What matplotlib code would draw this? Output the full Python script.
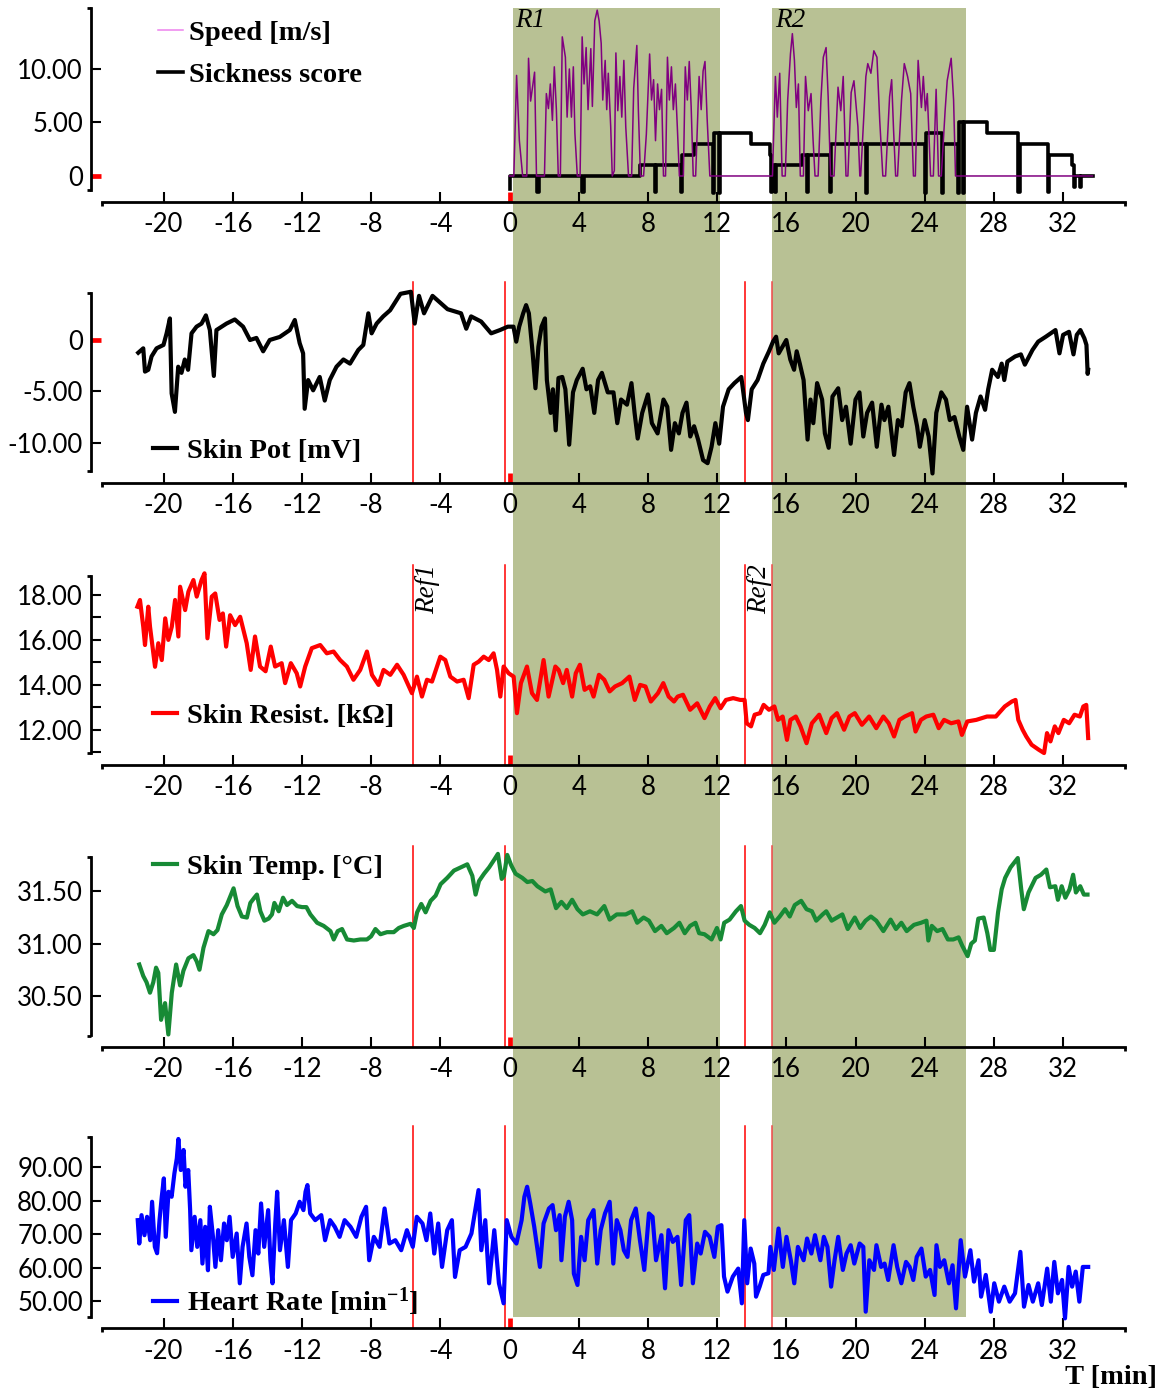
import numpy as np
import matplotlib
matplotlib.use("Agg")
import matplotlib.pyplot as plt
import matplotlib.transforms as mtransforms
from matplotlib.lines import Line2D
from matplotlib.patches import Rectangle
from matplotlib.font_manager import FontProperties

# ---------------- data ----------------
x_ticks = [-20, -16, -12, -8, -4, 0, 4, 8, 12, 16, 20, 24, 28, 32]
ride_periods = [(0.2, 12.15), (15.2, 26.4)]
ride_labels = ["R1", "R2"]
marker_times = [-5.55, -0.27, 13.6, 15.15]
ref_labels = [("Ref1", -5.55), ("Ref2", 13.6)]

speed = [(0.0, 0), (0.25, 0), (0.41, 9.4), (0.57, 3.3), (0.71, 0.8), (0.76, 0), (1.0, 0), (1.1, 11.0), (1.22, 7.0),
         (1.45, 9.7), (1.56, 0), (2.02, 0), (2.13, 7.7), (2.25, 6.3), (2.36, 8.6), (2.48, 5.2), (2.59, 10.2),
         (2.71, 6.2), (2.82, 0), (2.94, 0), (3.05, 13.0), (3.23, 11.1), (3.33, 5.5), (3.46, 10.0), (3.58, 5.5),
         (3.69, 10.2), (3.78, 4.0), (3.92, 0), (4.08, 0), (4.2, 13.0), (4.31, 8.6), (4.43, 12.0), (4.54, 6.2),
         (4.7, 11.9), (4.79, 6.5), (4.93, 14.5), (5.07, 15.5), (5.18, 14.5), (5.3, 12.4), (5.39, 7.1), (5.53, 10.8),
         (5.62, 6.2), (5.71, 9.6), (5.85, 4.6), (5.94, 0), (6.06, 0.5), (6.15, 11.5), (6.26, 6.1), (6.38, 9.3),
         (6.49, 5.5), (6.61, 10.8), (6.72, 4.6), (6.88, 0), (7.06, 0), (7.18, 8.2), (7.36, 12.2), (7.45, 6.1),
         (7.57, 0), (7.75, 0), (7.91, 3.9), (8.1, 11.4), (8.21, 7.1), (8.33, 9.0), (8.44, 3.3), (8.56, 8.6),
         (8.67, 6.2), (8.79, 8.1), (8.9, 0), (9.02, 0), (9.13, 11.1), (9.24, 7.1), (9.36, 10.2), (9.47, 6.2),
         (9.59, 8.6), (9.7, 4.6), (9.82, 0), (10.05, 0), (10.16, 10.2), (10.28, 7.1), (10.39, 10.7), (10.5, 6.5),
         (10.62, 0), (10.76, 0), (10.96, 9.3), (11.08, 6.2), (11.19, 9.8), (11.3, 10.7), (11.42, 5.5), (11.58, 0),
         (15.2, 0), (15.37, 9.3), (15.48, 5.5), (15.62, 9.6), (15.76, 0), (15.94, 0), (16.08, 7.1), (16.24, 11.4),
         (16.35, 13.3), (16.47, 10.8), (16.58, 6.4), (16.7, 8.6), (16.81, 0), (16.99, 0), (17.11, 9.3), (17.27, 6.1),
         (17.43, 7.7), (17.55, 3.3), (17.66, 0), (17.84, 0), (18.0, 7.1), (18.14, 11.1), (18.3, 12.0), (18.42, 7.4),
         (18.56, 0), (18.76, 0), (18.99, 8.3), (19.15, 6.1), (19.29, 9.3), (19.45, 0), (19.56, 0), (19.75, 7.8),
         (19.91, 8.9), (20.14, 4.6), (20.25, 0), (20.3, 0), (20.6, 9.3), (20.71, 10.5), (20.89, 9.6), (21.06, 11.7),
         (21.24, 11.1), (21.4, 5.2), (21.58, 0), (21.74, 0), (21.97, 7.4), (22.09, 9.0), (22.2, 4.3), (22.32, 0),
         (22.43, 0), (22.66, 7.1), (22.82, 10.5), (23.01, 9.3), (23.19, 7.7), (23.35, 0), (23.46, 0), (23.62, 10.8),
         (23.81, 6.4), (23.92, 9.3), (24.04, 6.1), (24.15, 7.7), (24.34, 0), (24.5, 0), (24.66, 8.1), (24.8, 0),
         (24.96, 0), (25.18, 6.1), (25.3, 8.9), (25.53, 11.0), (25.67, 7.1), (25.78, 0), (33.7, 0)]

sickness = [(0.0, -1.2), (0.05, 0), (1.6, -1.5), (1.68, 0), (4.2, -1.5), (4.28, 0), (7.57, 1), (8.4, -1.5),
            (8.48, 1), (9.9, -1.5), (9.98, 2), (10.67, 3), (11.74, -1.6), (11.82, 4), (12.1, -1.6), (12.18, 4),
            (13.97, 3), (15.05, 2), (15.12, -1.5), (15.2, 1), (15.35, -1.5), (15.42, 1), (16.9, 2), (17.2, -1.5),
            (17.28, 2), (18.5, -1.5), (18.58, 3), (20.6, -1.6), (20.68, 3), (24.0, -1.6), (24.08, 4), (25.0, -1.6),
            (25.08, 3), (25.9, -1.6), (26.0, 5), (26.2, -1.6), (26.28, 5), (27.6, 4), (29.4, -1.5), (29.48, 3),
            (31.1, -1.5), (31.18, 2), (32.5, 1), (32.62, -1.0), (32.7, 0), (32.95, -1.0), (33.03, 0), (33.7, 0)]

skin_pot = [(-21.46, -1.24), (-21.17, -0.81), (-21.07, -3.08), (-20.88, -2.9), (-20.69, -1.6), (-20.4, -0.81),
            (-20.0, -0.48), (-19.82, 0.65), (-19.63, 2.1), (-19.53, -5.2), (-19.34, -7.0), (-19.15, -2.6),
            (-18.96, -3.2), (-18.77, -1.9), (-18.58, -2.9), (-18.38, 0.65), (-18.09, 1.3), (-17.8, 1.6),
            (-17.55, 2.4), (-17.32, 0.97), (-17.09, -3.5), (-16.94, 0.97), (-16.36, 1.6), (-15.88, 2.0),
            (-15.4, 1.3), (-15.0, 0.0), (-14.63, 0.2), (-14.24, -1.1), (-13.86, 0.0), (-13.28, 0.3), (-12.7, 0.97),
            (-12.41, 1.95), (-12.13, -0.3), (-11.93, -1.3), (-11.84, -6.7), (-11.64, -3.9), (-11.35, -4.9),
            (-10.97, -3.6), (-10.68, -5.9), (-10.39, -3.9), (-10.0, -2.6), (-9.6, -1.9), (-9.22, -2.3),
            (-8.74, -0.97), (-8.45, -0.48), (-8.16, 2.6), (-7.97, 0.65), (-7.68, 1.6), (-7.3, 2.3), (-6.9, 2.9),
            (-6.3, 4.5), (-5.7, 4.7), (-5.48, 1.6), (-5.23, 4.3), (-4.94, 2.6), (-4.45, 4.3), (-3.58, 3.0),
            (-2.8, 2.6), (-2.5, 1.1), (-2.22, 2.3), (-1.64, 1.8), (-1.06, 0.65), (-0.55, 0.97), (-0.1, 1.3),
            (0.23, 1.3), (0.39, -0.16), (0.56, 1.3), (0.79, 2.6), (0.96, 3.4), (1.12, 2.6), (1.34, -1.3),
            (1.5, -4.7), (1.67, -0.65), (1.85, 1.3), (2.05, 2.1), (2.16, -3.9), (2.38, -7.1), (2.51, -4.8),
            (2.67, -8.8), (2.83, -3.7), (3.05, -3.6), (3.23, -4.8), (3.45, -10.2), (3.67, -5.1), (3.89, -3.9),
            (4.23, -2.8), (4.45, -4.8), (4.67, -4.5), (4.9, -7.1), (5.12, -3.9), (5.34, -3.2), (5.68, -5.1),
            (6.01, -5.1), (6.23, -8.1), (6.45, -5.8), (6.79, -6.3), (7.05, -4.2), (7.23, -7.1), (7.41, -9.6),
            (7.67, -7.1), (8.0, -5.3), (8.23, -8.1), (8.56, -9.1), (8.9, -5.8), (9.12, -6.5), (9.34, -10.7),
            (9.56, -8.1), (9.79, -9.1), (10.0, -7.1), (10.23, -6.1), (10.45, -9.4), (10.67, -8.4), (10.9, -9.7),
            (11.19, -11.7), (11.45, -12.0), (11.68, -10.4), (11.9, -8.1), (12.12, -10.1), (12.34, -6.5),
            (12.67, -4.8), (13.0, -4.2), (13.4, -3.6), (13.67, -7.1), (13.78, -7.8), (14.0, -4.8), (14.34, -3.9),
            (14.67, -2.3), (15.0, -1.1), (15.23, -0.16), (15.41, 0.32), (15.56, -1.3), (15.78, -0.65), (16.0, 0.0),
            (16.23, -1.9), (16.45, -2.9), (16.6, -1.1), (16.78, -2.3), (17.0, -3.9), (17.23, -9.7), (17.4, -5.8),
            (17.56, -8.1), (17.78, -4.2), (18.07, -5.8), (18.23, -9.1), (18.45, -10.5), (18.67, -5.5), (19.0, -4.7),
            (19.23, -7.8), (19.45, -6.5), (19.72, -10.1), (20.0, -5.8), (20.23, -5.1), (20.45, -9.4), (20.67, -7.1),
            (20.96, -6.1), (21.23, -10.4), (21.5, -6.3), (21.67, -7.8), (21.9, -6.5), (22.23, -11.2), (22.45, -7.8),
            (22.67, -8.4), (22.9, -5.1), (23.12, -4.2), (23.34, -6.5), (23.56, -8.4), (23.72, -10.4), (24.0, -7.8),
            (24.23, -9.4), (24.45, -13.0), (24.67, -7.1), (24.96, -5.1), (25.23, -5.8), (25.45, -7.8), (25.72, -7.5),
            (26.0, -9.4), (26.23, -10.7), (26.45, -6.5), (26.74, -9.7), (26.96, -7.1), (27.23, -5.5), (27.49, -6.8),
            (27.67, -4.8), (27.9, -2.9), (28.23, -3.6), (28.45, -2.3), (28.6, -3.9), (28.78, -2.1), (29.23, -1.6),
            (29.56, -1.4), (29.79, -2.4), (30.23, -0.97), (30.56, -0.16), (31.0, 0.32), (31.56, 0.97), (31.79, -1.3),
            (32.0, 0.5), (32.34, 0.8), (32.6, -1.4), (32.79, 0.5), (33.0, 0.97), (33.23, 0.16), (33.35, -0.48),
            (33.42, -3.3), (33.45, -2.9)]

skin_res = [(-21.51, 17.48), (-21.36, 17.78), (-21.17, 16.59), (-21.07, 15.77), (-20.88, 17.48), (-20.78, 16.59),
            (-20.49, 14.8), (-20.3, 15.85), (-20.1, 15.1), (-19.9, 16.96), (-19.72, 16.0), (-19.52, 16.59),
            (-19.33, 17.78), (-19.14, 16.15), (-19.04, 18.37), (-18.75, 17.33), (-18.56, 18.15), (-18.27, 18.67),
            (-18.08, 17.93), (-17.8, 18.67), (-17.63, 18.97), (-17.46, 16.07), (-17.21, 17.93), (-17.01, 18.07),
            (-16.76, 16.89), (-16.57, 17.18), (-16.38, 15.7), (-16.15, 17.1), (-15.86, 16.66), (-15.57, 17.03),
            (-15.19, 15.85), (-14.96, 14.66), (-14.71, 16.15), (-14.42, 14.81), (-14.1, 14.6), (-13.8, 15.7),
            (-13.55, 14.81), (-13.17, 14.96), (-12.97, 14.07), (-12.64, 14.96), (-12.3, 14.51), (-12.1, 13.92),
            (-11.81, 14.81), (-11.43, 15.63), (-10.94, 15.77), (-10.56, 15.4), (-10.17, 15.48), (-9.79, 15.1),
            (-9.4, 14.81), (-9.02, 14.22), (-8.63, 14.66), (-8.24, 15.48), (-7.95, 14.44), (-7.57, 13.99),
            (-7.28, 14.66), (-6.89, 14.44), (-6.5, 14.89), (-6.12, 14.44), (-5.64, 13.62), (-5.35, 14.36),
            (-5.06, 13.47), (-4.77, 14.22), (-4.48, 14.14), (-4.0, 15.25), (-3.71, 15.1), (-3.42, 14.36),
            (-3.03, 14.14), (-2.65, 14.22), (-2.36, 13.4), (-2.07, 14.89), (-1.78, 15.03), (-1.49, 15.25),
            (-1.2, 15.1), (-0.92, 15.4), (-0.72, 14.66), (-0.53, 13.47), (-0.34, 14.81), (-0.05, 14.51),
            (0.24, 14.36), (0.43, 12.73), (0.66, 14.07), (1.01, 14.81), (1.3, 13.62), (1.59, 13.32), (1.97, 15.1),
            (2.26, 13.47), (2.65, 14.81), (2.84, 14.66), (3.1, 14.07), (3.31, 14.66), (3.62, 13.47), (3.83, 14.51),
            (4.07, 14.89), (4.34, 13.77), (4.65, 13.92), (4.86, 13.47), (5.17, 14.44), (5.48, 14.22), (5.79, 13.7),
            (6.1, 13.92), (6.51, 14.07), (6.93, 14.36), (7.24, 13.32), (7.55, 13.99), (7.86, 13.92), (8.17, 13.25),
            (8.58, 13.62), (8.89, 14.07), (9.2, 13.47), (9.51, 13.25), (9.72, 13.47), (10.03, 13.55), (10.44, 12.88),
            (10.85, 13.17), (11.27, 12.51), (11.58, 13.03), (11.89, 13.4), (12.2, 12.95), (12.51, 13.32),
            (12.93, 13.4), (13.34, 13.32), (13.59, 13.32), (13.71, 12.28), (13.96, 12.14), (14.17, 12.66),
            (14.48, 12.73), (14.69, 13.1), (15.0, 12.88), (15.31, 13.03), (15.52, 12.43), (15.79, 12.58),
            (16.04, 11.54), (16.24, 12.43), (16.55, 12.58), (16.82, 12.14), (17.17, 11.39), (17.48, 12.28),
            (17.9, 12.66), (18.31, 11.84), (18.62, 12.51), (18.93, 12.73), (19.34, 11.99), (19.65, 12.58),
            (19.96, 12.73), (20.37, 12.21), (20.79, 12.58), (21.2, 12.06), (21.61, 12.58), (21.92, 12.28),
            (22.23, 11.69), (22.54, 12.43), (22.85, 12.58), (23.27, 12.73), (23.47, 11.91), (23.78, 12.43),
            (24.09, 12.58), (24.5, 12.66), (24.81, 12.06), (25.12, 12.43), (25.53, 12.28), (25.95, 12.36),
            (26.15, 11.76), (26.46, 12.36), (26.98, 12.43), (27.6, 12.58), (28.11, 12.58), (28.63, 13.03),
            (29.04, 13.25), (29.25, 13.32), (29.41, 12.43), (29.66, 11.99), (29.87, 11.69), (30.18, 11.32),
            (30.59, 11.1), (30.9, 10.95), (31.07, 11.84), (31.27, 11.47), (31.52, 12.14), (31.73, 11.84),
            (32.04, 12.43), (32.35, 12.28), (32.66, 12.66), (32.97, 12.58), (33.17, 13.03), (33.34, 13.1),
            (33.45, 11.62)]

skin_temp = [(-21.4, 30.8), (-21.17, 30.69), (-20.98, 30.63), (-20.78, 30.53), (-20.59, 30.63), (-20.43, 30.77),
             (-20.3, 30.72), (-20.14, 30.27), (-19.91, 30.43), (-19.72, 30.13), (-19.52, 30.53), (-19.27, 30.8),
             (-19.04, 30.6), (-18.85, 30.74), (-18.56, 30.86), (-18.27, 30.89), (-18.08, 30.83), (-17.92, 30.75),
             (-17.69, 30.96), (-17.4, 31.12), (-17.11, 31.09), (-16.88, 31.13), (-16.63, 31.28), (-16.34, 31.37),
             (-16.1, 31.47), (-15.95, 31.53), (-15.72, 31.36), (-15.47, 31.26), (-15.18, 31.25), (-14.98, 31.39),
             (-14.75, 31.44), (-14.6, 31.47), (-14.4, 31.31), (-14.17, 31.22), (-13.92, 31.24), (-13.73, 31.28),
             (-13.59, 31.39), (-13.34, 31.31), (-13.09, 31.44), (-12.86, 31.37), (-12.57, 31.41), (-12.28, 31.36),
             (-11.99, 31.35), (-11.74, 31.35), (-11.51, 31.28), (-11.12, 31.2), (-10.74, 31.17), (-10.35, 31.12),
             (-10.16, 31.04), (-9.93, 31.12), (-9.68, 31.14), (-9.39, 31.04), (-9.0, 31.03), (-8.62, 31.04),
             (-8.24, 31.04), (-8.0, 31.07), (-7.75, 31.14), (-7.46, 31.09), (-7.08, 31.11), (-6.69, 31.11),
             (-6.4, 31.15), (-6.11, 31.17), (-5.72, 31.19), (-5.53, 31.15), (-5.34, 31.3), (-5.1, 31.38),
             (-4.85, 31.3), (-4.56, 31.41), (-4.27, 31.46), (-3.98, 31.57), (-3.6, 31.63), (-3.21, 31.7),
             (-2.83, 31.73), (-2.44, 31.76), (-2.15, 31.65), (-1.96, 31.47), (-1.76, 31.6), (-1.47, 31.67),
             (-1.18, 31.73), (-0.9, 31.8), (-0.67, 31.86), (-0.45, 31.62), (-0.32, 31.65), (-0.13, 31.85),
             (0.1, 31.75), (0.35, 31.67), (0.74, 31.63), (1.03, 31.59), (1.32, 31.6), (1.61, 31.55), (2.07, 31.5),
             (2.38, 31.52), (2.69, 31.34), (3.0, 31.4), (3.31, 31.34), (3.62, 31.42), (3.93, 31.33), (4.24, 31.28),
             (4.65, 31.31), (5.06, 31.28), (5.48, 31.36), (5.79, 31.23), (6.2, 31.28), (6.72, 31.28), (7.09, 31.31),
             (7.38, 31.2), (7.75, 31.25), (8.06, 31.22), (8.41, 31.12), (8.78, 31.17), (9.09, 31.1), (9.51, 31.15),
             (9.82, 31.2), (10.13, 31.1), (10.44, 31.17), (10.75, 31.2), (10.96, 31.1), (11.27, 31.09),
             (11.68, 31.04), (11.99, 31.15), (12.2, 31.04), (12.41, 31.2), (12.72, 31.23), (13.09, 31.31),
             (13.38, 31.36), (13.59, 31.22), (13.86, 31.18), (14.17, 31.15), (14.48, 31.1), (14.75, 31.18),
             (15.04, 31.3), (15.31, 31.2), (15.62, 31.26), (15.93, 31.33), (16.2, 31.26), (16.49, 31.37),
             (16.86, 31.41), (17.17, 31.33), (17.48, 31.31), (17.73, 31.22), (18.1, 31.28), (18.31, 31.31),
             (18.62, 31.22), (18.93, 31.25), (19.24, 31.28), (19.55, 31.14), (19.96, 31.25), (20.27, 31.15),
             (20.58, 31.22), (20.89, 31.26), (21.2, 31.22), (21.61, 31.12), (22.03, 31.23), (22.34, 31.14),
             (22.65, 31.2), (22.96, 31.12), (23.38, 31.18), (23.79, 31.2), (24.1, 31.22), (24.21, 31.03),
             (24.41, 31.17), (24.72, 31.12), (25.03, 31.14), (25.34, 31.04), (25.65, 31.04), (25.96, 31.06),
             (26.17, 30.98), (26.48, 30.88), (26.69, 31.0), (26.9, 31.03), (27.1, 31.24), (27.41, 31.25),
             (27.62, 31.1), (27.79, 30.94), (28.0, 30.94), (28.24, 31.3), (28.45, 31.52), (28.65, 31.63),
             (28.96, 31.73), (29.38, 31.82), (29.58, 31.52), (29.73, 31.33), (30.0, 31.49), (30.41, 31.63),
             (30.72, 31.66), (31.03, 31.71), (31.24, 31.54), (31.55, 31.55), (31.7, 31.42), (31.92, 31.55),
             (32.13, 31.44), (32.37, 31.52), (32.58, 31.66), (32.74, 31.49), (32.99, 31.55), (33.2, 31.47),
             (33.41, 31.47)]

heart_rate = [(-21.49, 74.2), (-21.4, 67.2), (-21.27, 75.7), (-21.1, 69.7), (-20.95, 75.2), (-20.77, 68.2),
              (-20.66, 79.7), (-20.5, 66.2), (-20.37, 64.3), (-20.23, 74.2), (-20.1, 81.2), (-19.98, 86.7),
              (-19.87, 69.2), (-19.71, 82.7), (-19.53, 81.2), (-19.37, 88.2), (-19.23, 92.7), (-19.14, 98.5),
              (-19.0, 89.2), (-18.84, 95.2), (-18.73, 84.2), (-18.57, 89.2), (-18.46, 77.2), (-18.39, 65.2),
              (-18.2, 75.2), (-18.05, 66.2), (-17.87, 74.2), (-17.75, 61.2), (-17.59, 72.2), (-17.43, 59.2),
              (-17.32, 78.2), (-17.14, 69.2), (-17.0, 60.2), (-16.84, 71.2), (-16.68, 62.2), (-16.5, 73.2),
              (-16.34, 68.2), (-16.18, 75.2), (-16.0, 63.2), (-15.77, 70.2), (-15.59, 55.3), (-15.43, 66.2),
              (-15.2, 73.2), (-15.04, 63.2), (-14.86, 57.7), (-14.68, 71.2), (-14.52, 64.2), (-14.36, 79.2),
              (-14.18, 66.2), (-13.95, 77.2), (-13.82, 62.2), (-13.7, 55.3), (-13.54, 73.2), (-13.43, 82.7),
              (-13.27, 65.2), (-13.04, 74.2), (-12.81, 60.2), (-12.63, 74.2), (-12.36, 76.2), (-12.13, 79.7),
              (-11.91, 77.2), (-11.79, 82.7), (-11.68, 84.7), (-11.52, 76.2), (-11.23, 74.2), (-10.88, 75.7),
              (-10.66, 68.2), (-10.37, 74.2), (-10.1, 72.2), (-9.82, 69.2), (-9.53, 74.2), (-9.19, 72.2),
              (-8.86, 69.2), (-8.56, 75.2), (-8.29, 78.2), (-8.11, 62.2), (-7.84, 69.2), (-7.51, 66.2),
              (-7.22, 77.7), (-6.94, 67.2), (-6.6, 68.2), (-6.26, 65.2), (-5.93, 71.2), (-5.59, 66.2),
              (-5.36, 75.2), (-5.03, 73.2), (-4.8, 68.2), (-4.58, 76.2), (-4.35, 64.2), (-4.12, 73.2),
              (-3.9, 60.2), (-3.6, 71.2), (-3.33, 74.2), (-3.15, 57.2), (-2.88, 65.2), (-2.54, 66.2), (-2.2, 70.2),
              (-1.79, 83.2), (-1.63, 65.2), (-1.4, 74.2), (-1.18, 55.3), (-0.88, 71.2), (-0.61, 55.3),
              (-0.34, 49.3), (-0.16, 74.2), (0.11, 69.2), (0.4, 67.2), (0.7, 74.2), (0.86, 81.2), (1.02, 84.2),
              (1.2, 79.2), (1.43, 72.2), (1.76, 60.2), (1.97, 73.2), (2.28, 77.7), (2.49, 78.7), (2.69, 71.2),
              (2.9, 75.7), (3.0, 62.2), (3.2, 75.2), (3.42, 79.7), (3.62, 74.2), (3.72, 58.2), (3.93, 54.8),
              (4.14, 69.2), (4.34, 62.2), (4.55, 74.2), (4.86, 77.2), (5.07, 61.2), (5.27, 71.2), (5.52, 76.2),
              (5.79, 79.7), (6.0, 61.2), (6.2, 74.2), (6.41, 71.2), (6.61, 65.2), (6.82, 63.2), (7.03, 74.2),
              (7.3, 77.7), (7.54, 68.2), (7.79, 59.3), (8.06, 76.2), (8.27, 75.2), (8.47, 62.2), (8.78, 69.7),
              (8.99, 53.8), (9.19, 71.2), (9.44, 67.7), (9.71, 69.2), (9.92, 54.8), (10.19, 74.2), (10.39, 75.7),
              (10.6, 55.3), (10.85, 67.2), (11.05, 64.2), (11.3, 70.7), (11.57, 69.2), (11.84, 63.2), (12.04, 72.2),
              (12.25, 72.7), (12.4, 57.3), (12.6, 52.8), (12.91, 57.3), (13.22, 59.7), (13.43, 49.3), (13.57, 74.2),
              (13.74, 55.3), (13.94, 65.7), (14.15, 61.2), (14.25, 51.3), (14.46, 54.3), (14.67, 57.8),
              (14.97, 58.3), (15.08, 66.2), (15.28, 59.3), (15.55, 71.7), (15.8, 60.2), (16.01, 69.2),
              (16.26, 62.2), (16.46, 55.3), (16.67, 66.2), (17.0, 62.2), (17.2, 68.7), (17.45, 64.2), (17.66, 69.7),
              (17.97, 62.2), (18.17, 69.2), (18.38, 66.2), (18.59, 54.3), (18.79, 62.2), (19.0, 69.2), (19.27, 59.3),
              (19.48, 64.2), (19.72, 66.7), (19.93, 61.2), (20.24, 67.2), (20.45, 66.2), (20.59, 46.8), (20.8, 62.2),
              (21.07, 59.3), (21.21, 66.7), (21.48, 60.2), (21.68, 61.2), (21.89, 56.3), (22.2, 66.7), (22.41, 60.2),
              (22.65, 55.3), (22.92, 61.7), (23.13, 60.2), (23.34, 56.3), (23.54, 63.2), (23.81, 65.7),
              (24.06, 57.3), (24.31, 59.3), (24.57, 51.8), (24.68, 66.7), (24.88, 60.2), (25.13, 62.2),
              (25.4, 55.3), (25.61, 60.7), (25.81, 47.8), (26.08, 68.2), (26.33, 57.3), (26.64, 65.2),
              (26.85, 55.8), (27.11, 62.2), (27.26, 51.3), (27.53, 57.8), (27.82, 46.8), (28.02, 55.3),
              (28.29, 49.8), (28.6, 54.3), (28.91, 49.8), (29.22, 52.3), (29.53, 64.7), (29.74, 48.3), (30.0, 54.8),
              (30.25, 49.8), (30.56, 55.3), (30.77, 48.8), (31.08, 59.7), (31.29, 49.8), (31.49, 61.7), (31.7, 52.3),
              (31.94, 56.3), (32.11, 44.8), (32.32, 60.2), (32.52, 54.3), (32.73, 58.8), (32.94, 49.8),
              (33.14, 60.2), (33.45, 60.2)]

# y ticks per panel
p1_yticks, p1_ylabels = [0, 5, 10], ["0", "5.00", "10.00"]
p2_yticks, p2_ylabels = [-10, -5, 0], ["-10.00", "-5.00", "0"]
p3_yticks, p3_ylabels = [12, 14, 16, 18], ["12.00", "14.00", "16.00", "18.00"]
p3_minor = [11, 13, 15, 17]
p4_yticks, p4_ylabels = [30.5, 31.0, 31.5], ["30.50", "31.00", "31.50"]
p5_yticks, p5_ylabels = [50, 60, 70, 80, 90], ["50.00", "60.00", "70.00", "80.00", "90.00"]

# ---------------- figure ----------------
plt.rcParams['font.family'] = ['Lato', 'DejaVu Sans']
plt.rcParams['mathtext.fontset'] = 'custom'
plt.rcParams['mathtext.rm'] = 'Liberation Serif:bold'
plt.rcParams['mathtext.bf'] = 'Liberation Serif:bold'
plt.rcParams['mathtext.it'] = 'Liberation Serif:italic:bold'

W, H = 1168, 1389
fig = plt.figure(figsize=(W / 100, H / 100), dpi=100)
PX = 0.72  # points per pixel
OUT = 11.5 * PX

X0, X1 = 102, 1125
panel_px = [(8.3, 190.0), (293.3, 471.0), (576.0, 753.5), (857.0, 1035.5), (1137.3, 1316.7)]
ylims = [(-1.31, 15.67), (-12.76, 4.55), (10.93, 18.85), (30.12, 31.83), (45.3, 99.0)]
xlim = ((X0 - 509.5) / 17.3, (X1 - 509.5) / 17.3)

leg_font = FontProperties(family='Liberation Serif', weight='bold', size=20.5)
ital_font = FontProperties(family='Liberation Serif', style='italic', size=19.5)

axes = []
for (top, bot), yl in zip(panel_px, ylims):
    ax = fig.add_axes([X0 / W, 1 - bot / H, (X1 - X0) / W, (bot - top) / H])
    ax.patch.set_visible(False)
    axes.append(ax)


def style(ax, yticks, ylabels, yl, minor=None):
    for s in ('top', 'right'):
        ax.spines[s].set_visible(False)
    for s in ('left', 'bottom'):
        ax.spines[s].set_position(('outward', OUT))
        ax.spines[s].set_linewidth(2.0)
    ax.set_xlim(xlim)
    ax.set_ylim(yl)
    ax.set_xticks(x_ticks)
    ax.set_xticklabels([str(v) for v in x_ticks])
    ax.set_yticks(yticks)
    ax.set_yticklabels(ylabels)
    if minor:
        ax.set_yticks(minor, minor=True)
    ax.tick_params(which='both', direction='in', length=10 * PX, width=1.5, labelsize=18.5, colors='black')
    ax.tick_params(axis='x', pad=7.5)
    ax.tick_params(axis='y', pad=5.5)
    # red zero ticks
    for axis in (ax.xaxis, ax.yaxis):
        for tk in axis.get_major_ticks():
            if abs(tk.get_loc()) < 1e-9:
                tk.tick1line.set_markeredgecolor('red')
                tk.tick1line.set_color('red')
                tk.tick1line.set_markeredgewidth(3.4)
    # end caps of the offset spines
    tl = ax.transAxes + mtransforms.ScaledTranslation(-OUT / 72, 0, fig.dpi_scale_trans)
    ax.plot([0, 0], [0, 1], ls='none', marker=0, ms=3, mew=2, color='k', transform=tl, clip_on=False)
    tb = ax.transAxes + mtransforms.ScaledTranslation(0, -OUT / 72, fig.dpi_scale_trans)
    ax.plot([0, 1], [0, 0], ls='none', marker=3, ms=3, mew=2, color='k', transform=tb, clip_on=False)


def split(pairs):
    a = np.array(pairs, dtype=float)
    return a[:, 0], a[:, 1]


# Panel 1
ax = axes[0]
st, sv = split(sickness)
ax.plot(st, sv, drawstyle='steps-post', color='black', lw=2.6, zorder=3, clip_on=False)
spt, spv = split(speed)
ax.plot(spt, spv, color='#800080', lw=1.1, zorder=4)
style(ax, p1_yticks, p1_ylabels, ylims[0])
tr = mtransforms.blended_transform_factory(ax.transData, ax.transAxes)
for (a, b), lab in zip(ride_periods, ride_labels):
    ax.text(a + 0.15, 1.0, lab, transform=tr, ha='left', va='top', fontproperties=ital_font)
h1 = [Line2D([], [], color='#ee82ee', lw=1.1), Line2D([], [], color='black', lw=2.6)]
ax.legend(h1, ['Speed [m/s]', 'Sickness score'], loc='center left', bbox_to_anchor=(158 / W, 1 - 54 / H),
          bbox_transform=fig.transFigure, frameon=False, borderpad=0, borderaxespad=0, handlelength=0.88,
          handletextpad=0.2, labelspacing=0.55, prop=leg_font)

series = [(skin_pot, 'black', 'Skin Pot [mV]', 451),
          (skin_res, '#ff0000', 'Skin Resist. [k\u03a9]', 716),
          (skin_temp, '#178a35', 'Skin Temp. [\u00b0C]', 867),
          (heart_rate, '#0000ff', 'Heart Rate [min$^{-1}$]', 1302)]
ticks = [(p2_yticks, p2_ylabels, None), (p3_yticks, p3_ylabels, p3_minor),
         (p4_yticks, p4_ylabels, None), (p5_yticks, p5_ylabels, None)]

for i, ((data, col, lab, ly), (yt, yls, mn)) in enumerate(zip(series, ticks)):
    ax = axes[i + 1]
    top, bot = panel_px[i + 1]
    hpx = bot - top
    t, v = split(data)
    ax.plot(t, v, color=col, lw=3.0, zorder=3, clip_on=False, solid_joinstyle='round')
    for k, mt in enumerate(marker_times):
        ax.axvline(mt, ymin=-11.5 / hpx, ymax=1 + 11 / hpx, color='red' if k < 3 else '#f04848',
                   lw=1.1, clip_on=False, zorder=2)
    style(ax, yt, yls, ylims[i + 1], mn)
    ax.legend([Line2D([], [], color=col, lw=3.0)], [lab], loc='center left',
              bbox_to_anchor=(153 / W, 1 - ly / H), bbox_transform=fig.transFigure, frameon=False,
              borderpad=0, borderaxespad=0, handlelength=0.85, handletextpad=0.35, prop=leg_font)

# Ref labels in panel 3
ax = axes[2]
hpx = panel_px[2][1] - panel_px[2][0]
tr = mtransforms.blended_transform_factory(ax.transData, ax.transAxes)
for lab, mt in ref_labels:
    ax.text(mt + 0.12, 1 + 12 / hpx, lab, transform=tr, rotation=90, ha='left', va='top',
            fontproperties=ital_font)

# shaded ride periods spanning all panels
trf = mtransforms.blended_transform_factory(axes[-1].transData, fig.transFigure)
ybot = 1 - panel_px[-1][1] / H
ytop = 1 - panel_px[0][0] / H
for a, b in ride_periods:
    fig.add_artist(Rectangle((a, ybot), b - a, ytop - ybot, transform=trf, facecolor='#b8c194',
                             edgecolor='none', zorder=-5))

fig.text(1157 / W, 1 - 1378 / H, 'T [min]', ha='right', va='center', fontproperties=leg_font)

fig.savefig('out.png', dpi=100)
